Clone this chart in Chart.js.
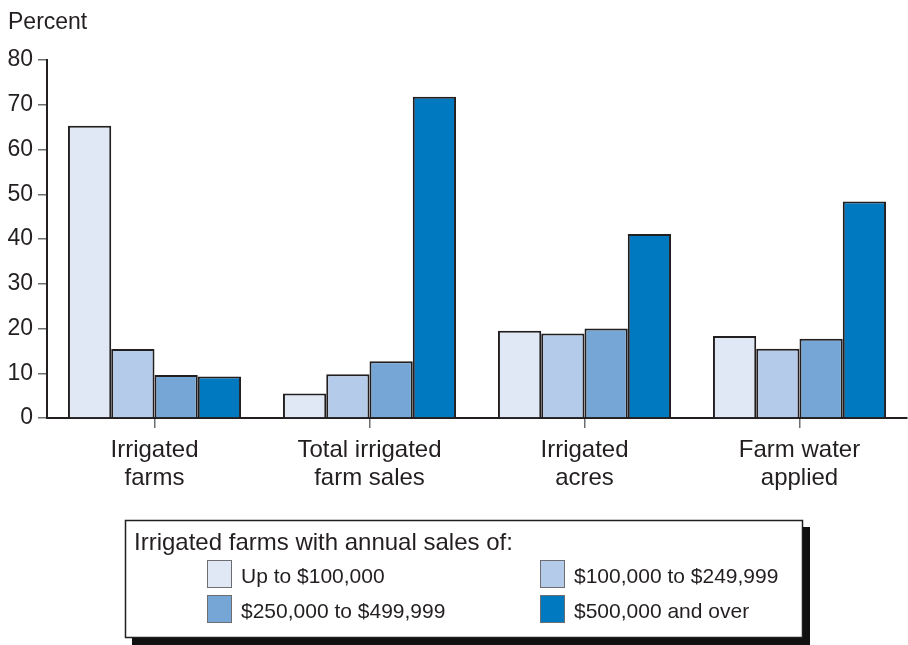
<!DOCTYPE html>
<html lang="en">

<head>
    <meta charset="UTF-8">
    <title>Irrigated farms by annual sales</title>
    <script src="https://cdn.jsdelivr.net/npm/chart.js"></script>
    <style>
        html, body { margin: 0; padding: 0; background: #fff; }
        #wrap { position: relative; width: 908px; height: 645px; }
    </style>
</head>

<body>
    <div id="wrap">
        <canvas id="myChart" width="908" height="645"></canvas>
    </div>

    <script>
        // chart values
        const categories = [
            ['Irrigated', 'farms'],
            ['Total irrigated', 'farm sales'],
            ['Irrigated', 'acres'],
            ['Farm water', 'applied']
        ];
        const seriesNames = ['Up to $100,000', '$100,000 to $249,999', '$250,000 to $499,999', '$500,000 and over'];
        const upTo100k = [65.3, 5.5, 19.5, 18.3];
        const from100kTo250k = [15.4, 9.8, 18.9, 15.5];
        const from250kTo500k = [9.6, 12.7, 20.0, 17.7];
        const over500k = [9.3, 71.8, 41.1, 48.4];
        const yTicks = [0, 10, 20, 30, 40, 50, 60, 70, 80];

        const colors = ['#e1e8f5', '#b5cbea', '#76a6d6', '#0079c1'];
        const seriesValues = [upTo100k, from100kTo250k, from250kTo500k, over500k];

        const FONT = '"Liberation Sans", Arial, Helvetica, sans-serif';
        const INK = '#231f20';

        // draws "Percent" and the boxed legend underneath
        const extras = {
            id: 'extras',
            afterDraw(chart) {
                const ctx = chart.ctx;
                ctx.save();
                ctx.font = '23px ' + FONT;
                ctx.fillStyle = INK;
                ctx.textBaseline = 'middle';
                ctx.textAlign = 'left';
                ctx.fillText('Percent', 8, 23);

                // legend box with drop shadow
                ctx.fillStyle = '#111';
                ctx.fillRect(132, 527, 678, 118);
                ctx.fillStyle = '#fff';
                ctx.fillRect(125, 520, 678, 118);
                ctx.strokeStyle = INK;
                ctx.lineWidth = 1.5;
                ctx.strokeRect(125.5, 520.5, 677, 117);

                ctx.fillStyle = INK;
                ctx.font = '24px ' + FONT;
                ctx.fillText('Irrigated farms with annual sales of:', 134, 543);

                ctx.font = '21px ' + FONT;
                const cols = [207, 540];
                const rows = [560, 595];
                chart.data.datasets.forEach((ds, i) => {
                    const x = cols[i % 2];
                    const y = rows[Math.floor(i / 2)];
                    ctx.fillStyle = ds.backgroundColor;
                    ctx.fillRect(x, y, 25, 28);
                    ctx.strokeStyle = '#6d6e71';
                    ctx.lineWidth = 1;
                    ctx.strokeRect(x + 0.5, y + 0.5, 24, 27);
                    ctx.fillStyle = INK;
                    ctx.fillText(ds.label, x + 34, y + 17);
                });
                ctx.restore();
            }
        };

        const canvas = document.getElementById('myChart');

        const chart = new Chart(canvas, {
            type: 'bar',
            data: {
                labels: categories,
                datasets: seriesNames.map((name, i) => ({
                    label: name,
                    data: seriesValues[i],
                    backgroundColor: colors[i],
                    borderColor: INK,
                    borderWidth: 2,
                    borderSkipped: 'bottom'
                }))
            },
            options: {
                responsive: false,
                animation: false,
                layout: { padding: { top: 60, right: 1, left: 0, bottom: 0 } },
                datasets: {
                    bar: { categoryPercentage: 0.805, barPercentage: 1 }
                },
                plugins: {
                    legend: { display: false },
                    tooltip: { enabled: false }
                },
                scales: {
                    x: {
                        grid: {
                            offset: false,
                            drawOnChartArea: false,
                            drawTicks: true,
                            tickLength: 10,
                            color: '#6d6e71',
                            lineWidth: 1.5
                        },
                        border: { display: true, color: INK, width: 2 },
                        ticks: {
                            color: INK,
                            font: { family: FONT, size: 24, lineHeight: 1.17 },
                            padding: 8,
                            maxRotation: 0
                        },
                        afterFit(scale) { scale.height = 227; }
                    },
                    y: {
                        min: 0,
                        max: 80,
                        afterBuildTicks(scale) { scale.ticks = yTicks.map(v => ({ value: v })); },
                        grid: {
                            drawOnChartArea: false,
                            drawTicks: true,
                            tickLength: 9,
                            color: '#6d6e71',
                            lineWidth: 1.5
                        },
                        border: { display: true, color: INK, width: 2 },
                        ticks: {
                            color: INK,
                            font: { family: FONT, size: 23 },
                            padding: 5
                        },
                        afterFit(scale) { scale.width = 47; }
                    }
                }
            },
            plugins: [extras]
        });
    </script>
</body>

</html>
